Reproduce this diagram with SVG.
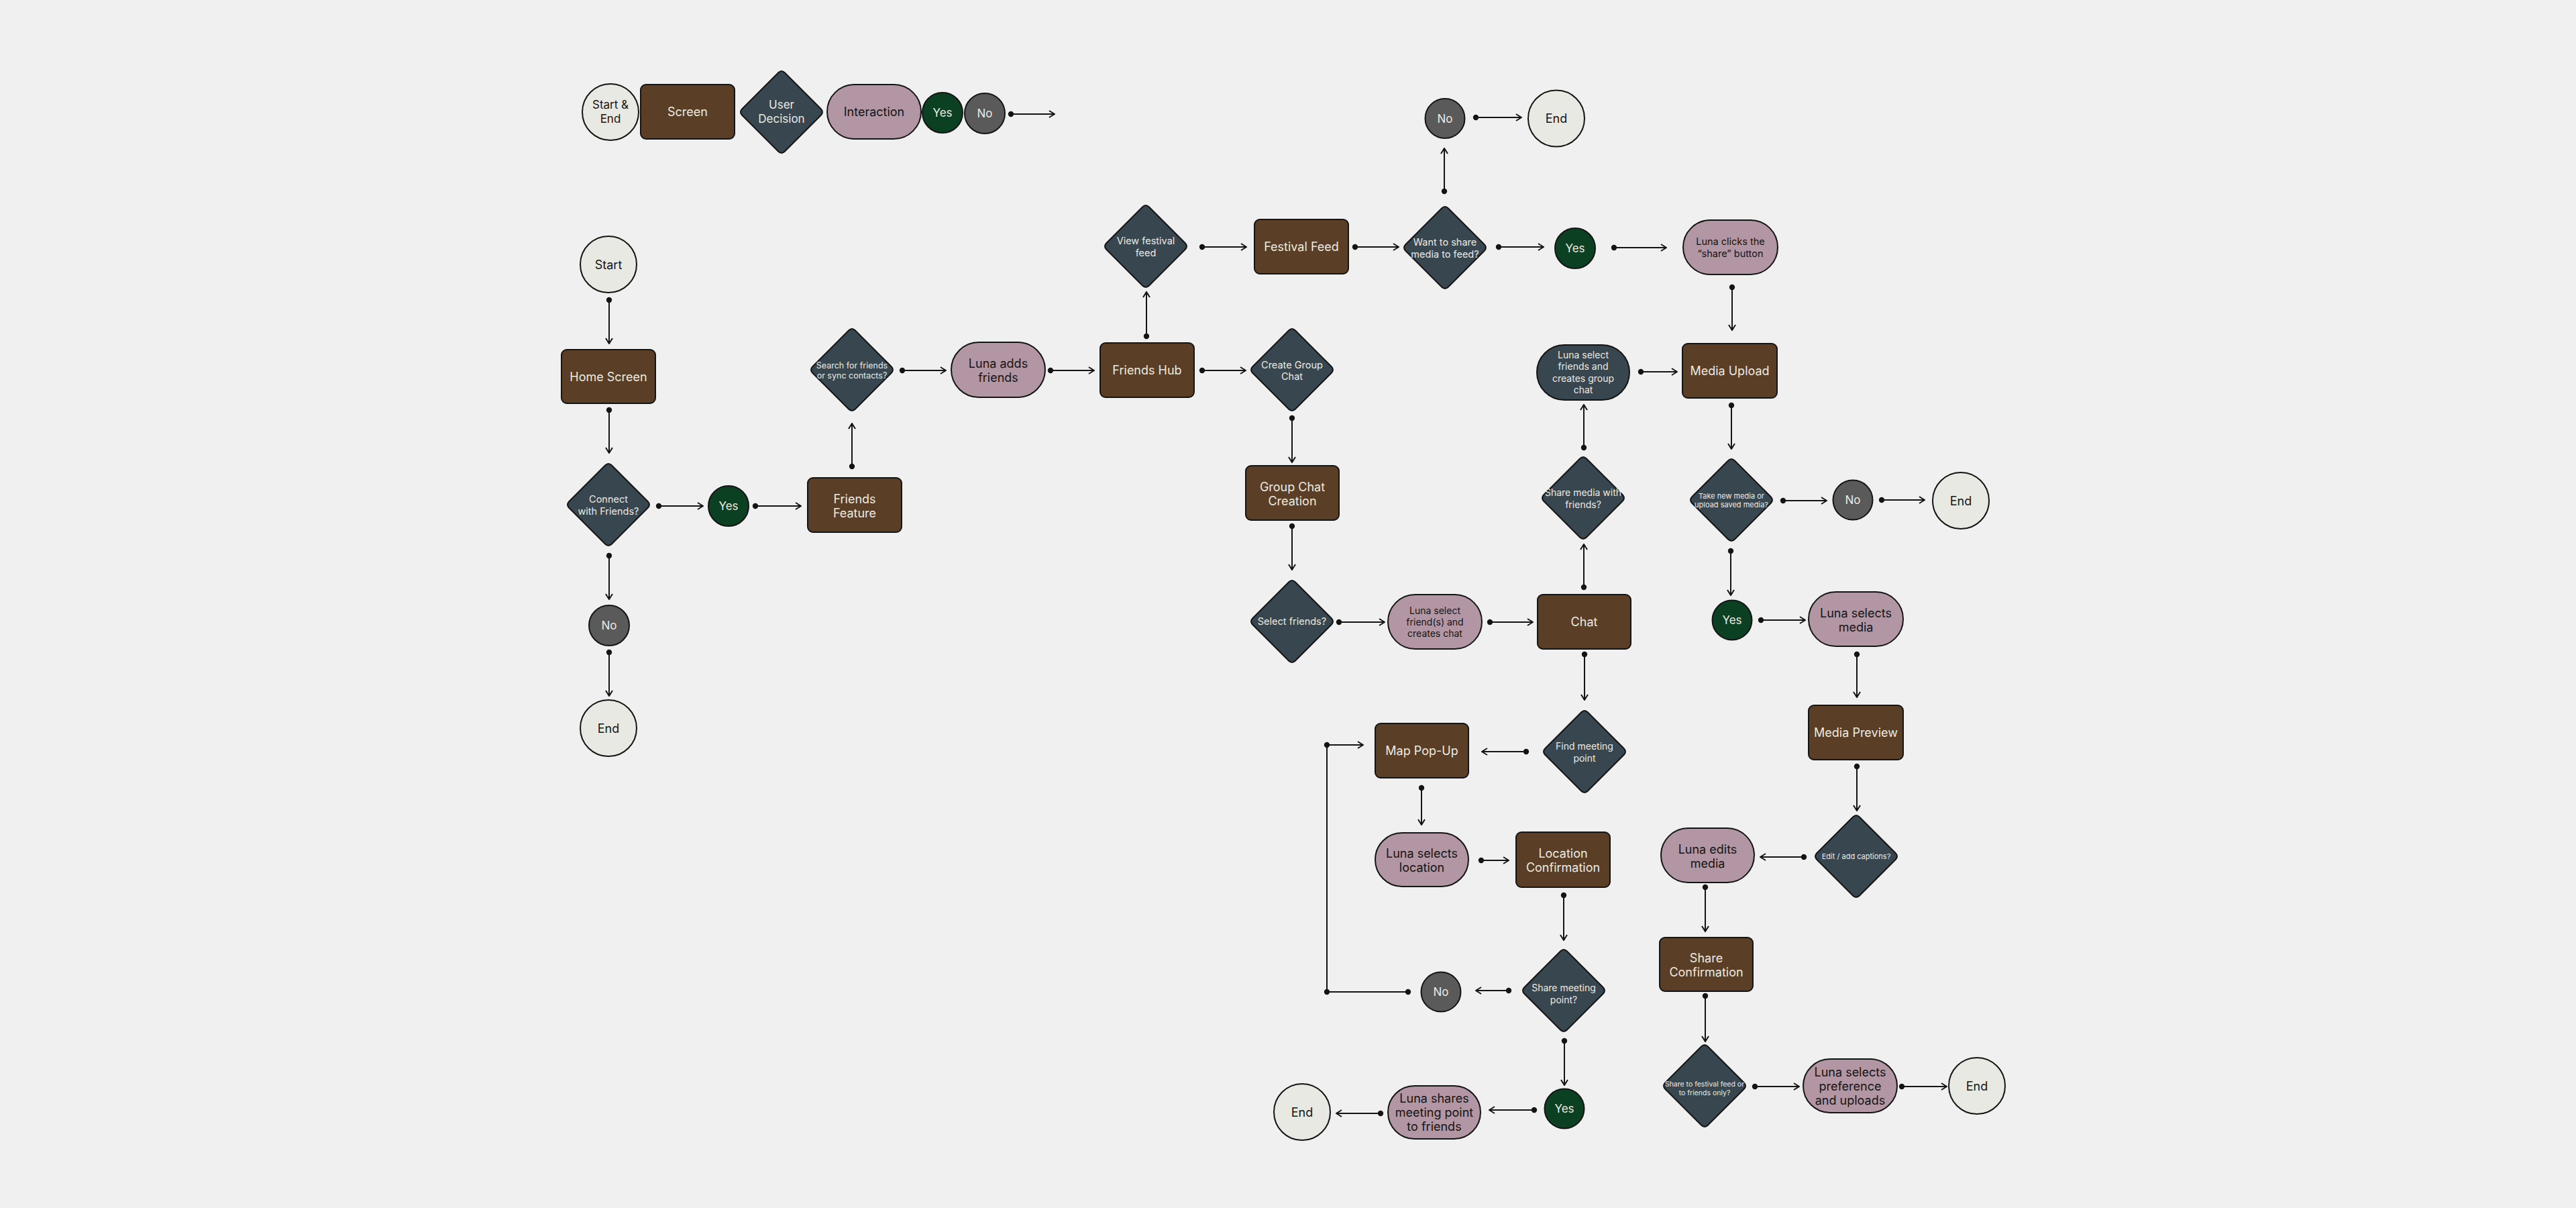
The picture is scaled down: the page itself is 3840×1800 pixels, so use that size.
<svg xmlns="http://www.w3.org/2000/svg" xmlns:xlink="http://www.w3.org/1999/xlink" width="3840" height="1800" viewBox="0 0 3840 1800">
<style>
.t{font-family:Inter,"Liberation Sans",sans-serif;text-anchor:middle}
.lt{fill:#ecebe3}
.dk{fill:#141414}
.f18{font-size:18px}
.f17{font-size:17px}
.f145{font-size:14.5px}
.f14{font-size:14px}
.f125{font-size:12.5px}
.f11{font-size:11px}
.f105{font-size:10.5px}
.se{fill:#e8e9e3;stroke:#141414;stroke-width:2}
.scr{fill:#5a3e25;stroke:#141414;stroke-width:2}
.dec{fill:#38464f;stroke:#141414;stroke-width:2}
.int{fill:#b396a3;stroke:#141414;stroke-width:2}
.yes{fill:#0b4122;stroke:#141414;stroke-width:2}
.no{fill:#5a5a5a;stroke:#141414;stroke-width:2}
</style>
<defs>
<path id="dia" d="M5,-58.5 L58.5,-5 Q63.5,0 58.5,5 L5,58.5 Q0,63.5 -5,58.5 L-58.5,5 Q-63.5,0 -58.5,-5 L-5,-58.5 Q0,-63.5 5,-58.5 Z"/>
<marker id="arr" viewBox="0 0 10 12" refX="9" refY="6" markerWidth="10" markerHeight="12" markerUnits="userSpaceOnUse" orient="auto"><path d="M1,1 L9,6 L1,11" fill="none" stroke="#141414" stroke-width="2"/></marker>
<marker id="dot" viewBox="0 0 10 10" refX="5" refY="5" markerWidth="10" markerHeight="10" markerUnits="userSpaceOnUse"><circle cx="5" cy="5" r="4.2" fill="#141414"/></marker>
</defs>
<rect width="3840" height="1800" fill="#f0f0f0"/>

<!-- Legend -->
<g id="legend">
<g id="lg-startend"><circle class="se" cx="910" cy="167" r="42"/><text class="t dk f17" x="910" y="162">Start &amp;</text><text class="t dk f17" x="910" y="183">End</text></g>
<g id="lg-screen"><rect class="scr" x="955" y="126" width="140" height="81" rx="8"/><text class="t lt f18" x="1025" y="173">Screen</text></g>
<g id="lg-decision"><use href="#dia" xlink:href="#dia" x="1165" y="167" class="dec"/><text class="t lt f17" x="1165" y="162">User</text><text class="t lt f17" x="1165" y="183">Decision</text></g>
<g id="lg-interaction"><rect class="int" x="1233" y="126" width="140" height="81" rx="40.5"/><text class="t dk f18" x="1303" y="173">Interaction</text></g>
<g id="lg-yes"><circle class="yes" cx="1405" cy="168" r="30"/><text class="t lt f17" x="1405" y="174">Yes</text></g>
<g id="lg-no"><circle class="no" cx="1468" cy="169" r="30"/><text class="t lt f17" x="1468" y="175">No</text></g>
</g>

<!-- Nodes -->
<g id="n-start"><circle class="se" cx="907" cy="394" r="42"/><text class="t dk f18" x="907" y="400.5">Start</text></g>
<g id="n-home"><rect class="scr" x="837" y="521" width="140" height="80" rx="8"/><text class="t lt f18" x="907" y="567.5">Home Screen</text></g>
<g id="n-connect"><use href="#dia" xlink:href="#dia" x="907" y="752" class="dec"/><text class="t lt f145" x="907" y="749">Connect</text><text class="t lt f145" x="907" y="766.5">with Friends?</text></g>
<g id="n-yes1"><circle class="yes" cx="1086" cy="754" r="30"/><text class="t lt f17" x="1086" y="760">Yes</text></g>
<g id="n-no1"><circle class="no" cx="908" cy="932" r="30"/><text class="t lt f17" x="908" y="938">No</text></g>
<g id="n-end1"><circle class="se" cx="907" cy="1085" r="42"/><text class="t dk f18" x="907" y="1091.5">End</text></g>
<g id="n-friends-feature"><rect class="scr" x="1204" y="712" width="140" height="81" rx="8"/><text class="t lt f18" x="1274" y="750">Friends</text><text class="t lt f18" x="1274" y="771">Feature</text></g>
<g id="n-search"><use href="#dia" xlink:href="#dia" x="1270" y="551" class="dec"/><text class="t lt f125" x="1270" y="549">Search for friends</text><text class="t lt f125" x="1270" y="564">or sync contacts?</text></g>
<g id="n-luna-adds"><rect class="int" x="1418" y="510" width="140" height="82" rx="41"/><text class="t dk f18" x="1488" y="548">Luna adds</text><text class="t dk f18" x="1488" y="569">friends</text></g>
<g id="n-friends-hub"><rect class="scr" x="1640" y="511" width="140" height="81" rx="8"/><text class="t lt f18" x="1710" y="558">Friends Hub</text></g>
<g id="n-create-group"><use href="#dia" xlink:href="#dia" x="1926" y="551" class="dec"/><text class="t lt f145" x="1926" y="548.5">Create Group</text><text class="t lt f145" x="1926" y="566">Chat</text></g>
<g id="n-view-feed"><use href="#dia" xlink:href="#dia" x="1708" y="367" class="dec"/><text class="t lt f145" x="1708" y="364">View festival</text><text class="t lt f145" x="1708" y="381.5">feed</text></g>
<g id="n-festival-feed"><rect class="scr" x="1870" y="327" width="140" height="81" rx="8"/><text class="t lt f18" x="1940" y="374">Festival Feed</text></g>
<g id="n-want-share"><use href="#dia" xlink:href="#dia" x="2154" y="369" class="dec"/><text class="t lt f145" x="2154" y="366">Want to share</text><text class="t lt f145" x="2154" y="383.5">media to feed?</text></g>
<g id="n-no2"><circle class="no" cx="2154" cy="176.5" r="29.5"/><text class="t lt f17" x="2154" y="182.5">No</text></g>
<g id="n-end2"><circle class="se" cx="2320" cy="176.5" r="42"/><text class="t dk f18" x="2320" y="183">End</text></g>
<g id="n-yes2"><circle class="yes" cx="2348" cy="370" r="30"/><text class="t lt f17" x="2348" y="376">Yes</text></g>
<g id="n-luna-clicks"><rect class="int" x="2509" y="328" width="141" height="81" rx="40.5"/><text class="t dk f145" x="2579.5" y="365">Luna clicks the</text><text class="t dk f145" x="2579.5" y="382.5">“share” button</text></g>
<g id="n-media-upload"><rect class="scr" x="2508" y="512" width="141" height="81" rx="8"/><text class="t lt f18" x="2578.5" y="559">Media Upload</text></g>
<g id="n-luna-select-group"><rect class="dec" x="2291" y="514" width="138" height="82" rx="41"/><text class="t lt f14" x="2360" y="534">Luna select</text><text class="t lt f14" x="2360" y="551.4">friends and</text><text class="t lt f14" x="2360" y="568.8">creates group</text><text class="t lt f14" x="2360" y="586.2">chat</text></g>
<g id="n-share-media-friends"><use href="#dia" xlink:href="#dia" x="2360" y="742" class="dec"/><text class="t lt f14" x="2360" y="739">Share media with</text><text class="t lt f14" x="2360" y="756.5">friends?</text></g>
<g id="n-chat"><rect class="scr" x="2292" y="886" width="139" height="81" rx="8"/><text class="t lt f18" x="2361.5" y="933">Chat</text></g>
<g id="n-take-new"><use href="#dia" xlink:href="#dia" x="2581" y="745" class="dec"/><text class="t lt f11" x="2581" y="743">Take new media or</text><text class="t lt f11" x="2581" y="755.5">upload saved media?</text></g>
<g id="n-no3"><circle class="no" cx="2762" cy="745" r="29.5"/><text class="t lt f17" x="2762" y="751">No</text></g>
<g id="n-end3"><circle class="se" cx="2923" cy="746" r="42"/><text class="t dk f18" x="2923" y="752.5">End</text></g>
<g id="n-yes3"><circle class="yes" cx="2582" cy="924" r="29.5"/><text class="t lt f17" x="2582" y="930">Yes</text></g>
<g id="n-luna-selects-media"><rect class="int" x="2696" y="882" width="141" height="81" rx="40.5"/><text class="t dk f18" x="2766.5" y="920">Luna selects</text><text class="t dk f18" x="2766.5" y="941">media</text></g>
<g id="n-media-preview"><rect class="scr" x="2696" y="1051" width="141" height="81" rx="8"/><text class="t lt f18" x="2766.5" y="1098">Media Preview</text></g>
<g id="n-edit-captions"><use href="#dia" xlink:href="#dia" x="2767" y="1276" class="dec"/><text class="t lt f11" x="2767" y="1280">Edit / add captions?</text></g>
<g id="n-luna-edits"><rect class="int" x="2476" y="1234" width="139" height="81" rx="40.5"/><text class="t dk f18" x="2545.5" y="1272">Luna edits</text><text class="t dk f18" x="2545.5" y="1293">media</text></g>
<g id="n-share-confirmation"><rect class="scr" x="2474" y="1397" width="139" height="80" rx="8"/><text class="t lt f18" x="2543.5" y="1434">Share</text><text class="t lt f18" x="2543.5" y="1455">Confirmation</text></g>
<g id="n-share-festival"><use href="#dia" xlink:href="#dia" x="2541" y="1618" class="dec"/><text class="t lt f105" x="2541" y="1619">Share to festival feed or</text><text class="t lt f105" x="2541" y="1631.5">to friends only?</text></g>
<g id="n-luna-pref"><rect class="int" x="2688" y="1578" width="140" height="80" rx="40"/><text class="t dk f18" x="2758" y="1604">Luna selects</text><text class="t dk f18" x="2758" y="1625">preference</text><text class="t dk f18" x="2758" y="1646">and uploads</text></g>
<g id="n-end4"><circle class="se" cx="2947" cy="1618" r="42"/><text class="t dk f18" x="2947" y="1624.5">End</text></g>
<g id="n-group-chat-creation"><rect class="scr" x="1857" y="694" width="139" height="81" rx="8"/><text class="t lt f18" x="1926.5" y="731.5">Group Chat</text><text class="t lt f18" x="1926.5" y="752.5">Creation</text></g>
<g id="n-select-friends"><use href="#dia" xlink:href="#dia" x="1926" y="926" class="dec"/><text class="t lt f145" x="1926" y="931">Select friends?</text></g>
<g id="n-luna-select-friends"><rect class="int" x="2069" y="886" width="140" height="81" rx="40.5"/><text class="t dk f14" x="2139" y="915">Luna select</text><text class="t dk f14" x="2139" y="932">friend(s) and</text><text class="t dk f14" x="2139" y="949">creates chat</text></g>
<g id="n-find-meeting"><use href="#dia" xlink:href="#dia" x="2362" y="1120" class="dec"/><text class="t lt f14" x="2362" y="1117">Find meeting</text><text class="t lt f14" x="2362" y="1134.5">point</text></g>
<g id="n-map-popup"><rect class="scr" x="2050" y="1078" width="139" height="81" rx="8"/><text class="t lt f18" x="2119.5" y="1125">Map Pop-Up</text></g>
<g id="n-luna-selects-location"><rect class="int" x="2050" y="1241" width="139" height="80" rx="40"/><text class="t dk f18" x="2119.5" y="1277.5">Luna selects</text><text class="t dk f18" x="2119.5" y="1298.5">location</text></g>
<g id="n-location-confirmation"><rect class="scr" x="2260" y="1240" width="140" height="82" rx="8"/><text class="t lt f18" x="2330" y="1277.5">Location</text><text class="t lt f18" x="2330" y="1298.5">Confirmation</text></g>
<g id="n-share-meeting"><use href="#dia" xlink:href="#dia" x="2331" y="1476" class="dec"/><text class="t lt f14" x="2331" y="1477">Share meeting</text><text class="t lt f14" x="2331" y="1494.5">point?</text></g>
<g id="n-no4"><circle class="no" cx="2148" cy="1478" r="29.5"/><text class="t lt f17" x="2148" y="1484">No</text></g>
<g id="n-yes4"><circle class="yes" cx="2332" cy="1652" r="29.5"/><text class="t lt f17" x="2332" y="1658">Yes</text></g>
<g id="n-luna-shares"><rect class="int" x="2069" y="1618" width="138" height="79" rx="39.5"/><text class="t dk f18" x="2138" y="1643">Luna shares</text><text class="t dk f18" x="2138" y="1664">meeting point</text><text class="t dk f18" x="2138" y="1685">to friends</text></g>
<g id="n-end5"><circle class="se" cx="1941" cy="1657" r="42"/><text class="t dk f18" x="1941" y="1663.5">End</text></g>

<!-- Connectors -->
<g id="connectors" fill="none" stroke="#141414" stroke-width="2" marker-start="url(#dot)" marker-end="url(#arr)">
<path d="M1507,170 H1572"/>
<path d="M908,447 V512"/>
<path d="M908,611 V675"/>
<path d="M982,754 H1048"/>
<path d="M1126,754 H1194"/>
<path d="M908,828 V893"/>
<path d="M908,972 V1037"/>
<path d="M1270,695 V631"/>
<path d="M1345,552 H1410"/>
<path d="M1566,552 H1631"/>
<path d="M1792,552 H1857"/>
<path d="M1709,501 V435"/>
<path d="M1792,368 H1858"/>
<path d="M2020,368 H2085"/>
<path d="M2153,285 V221"/>
<path d="M2200,175 H2268"/>
<path d="M2234,368 H2301"/>
<path d="M2406,369 H2484"/>
<path d="M2582,428 V492"/>
<path d="M2446,554 H2500"/>
<path d="M2361,667 V603"/>
<path d="M2361,875 V811"/>
<path d="M2581,604 V669"/>
<path d="M2658,746 H2723"/>
<path d="M2805,745 H2869"/>
<path d="M2580,821 V887"/>
<path d="M2625,924 H2691"/>
<path d="M2768,975 V1039"/>
<path d="M2768,1142 V1208"/>
<path d="M2689,1277 H2624"/>
<path d="M2542,1322 V1388"/>
<path d="M2542,1484 V1552"/>
<path d="M2616,1619 H2682"/>
<path d="M2835,1619 H2902"/>
<path d="M1926,623 V689"/>
<path d="M1926,784 V849"/>
<path d="M1996,927 H2064"/>
<path d="M2221,927 H2285"/>
<path d="M2362,975 V1043"/>
<path d="M2275,1120 H2209"/>
<path d="M2119,1174 V1229"/>
<path d="M2208,1282 H2249"/>
<path d="M2331,1334 V1401"/>
<path d="M2249,1476 H2200"/>
<path d="M2099,1478 H1978 V1110 H2032" marker-mid="url(#dot)"/>
<path d="M2332,1551 V1617"/>
<path d="M2287,1654 H2220"/>
<path d="M2058,1659 H1992"/>
</g>
</svg>
